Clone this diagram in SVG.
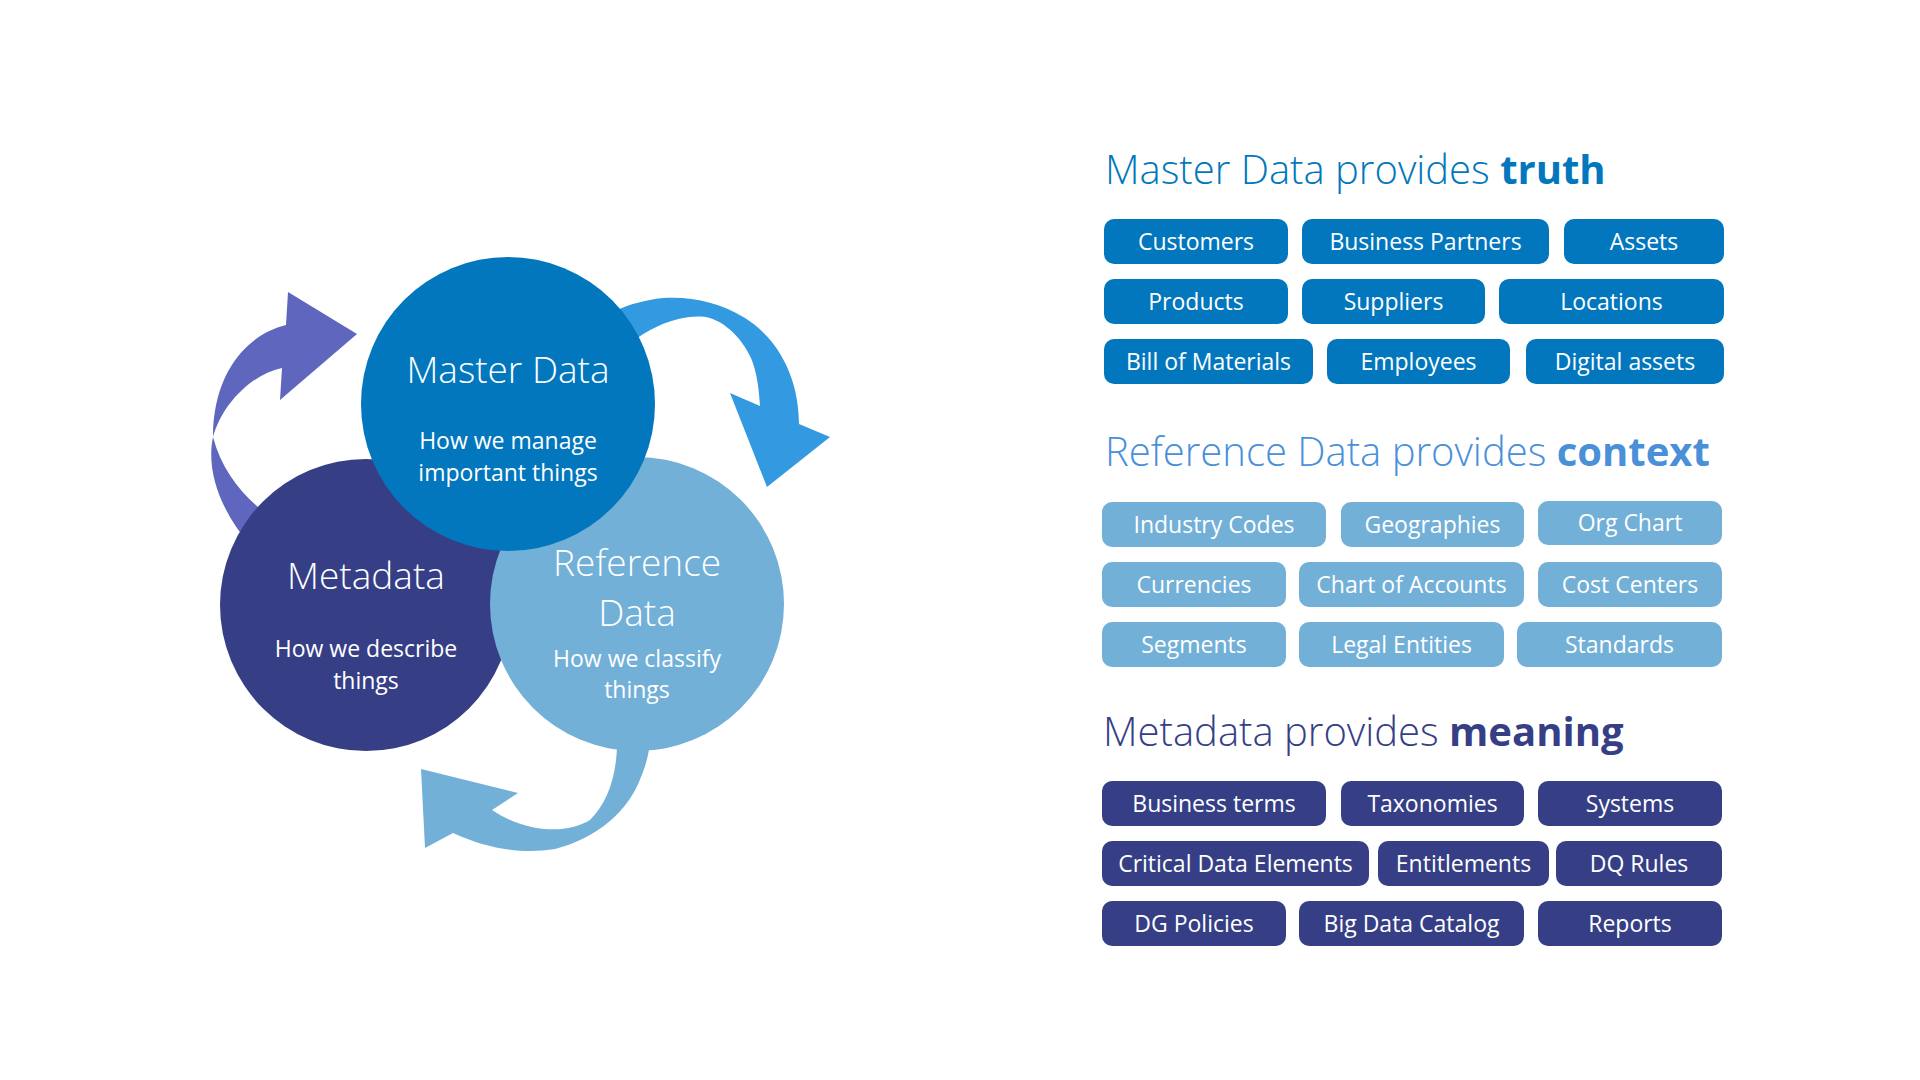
<svg xmlns="http://www.w3.org/2000/svg" width="1920" height="1080" viewBox="0 0 1920 1080">
  <style>
    .title { font-family: "Open Sans", "Liberation Sans", sans-serif; font-weight: 300; font-size: 37px; fill: #ffffff; text-anchor: middle; }
    .sub { font-family: "Open Sans", "Liberation Sans", sans-serif; font-weight: 400; font-size: 23px; fill: #ffffff; text-anchor: middle; }
    .head { font-family: "Open Sans", "Liberation Sans", sans-serif; font-weight: 300; font-size: 40px; }
    .head tspan.b { font-weight: 700; }
    .pill text { font-family: "Open Sans", "Liberation Sans", sans-serif; font-size: 23px; fill: #ffffff; text-anchor: middle; }
    .md rect { fill: #0277bd; }
    .rd rect { fill: #72b0d8; }
    .mt rect { fill: #363f86; }
  </style>

  <rect width="1920" height="1080" fill="#ffffff"/>

  <!-- cycle arrows -->
  <g id="connectors">
    <path id="arrow-meta-master" fill="#5e67bd" d="M 286 325 C 245 335 213 375 213 437 C 206 470 220 510 250 545 L 268 515 C 245 498 222 472 213 437 C 222 405 250 375 282 368 L 280 400 L 357 334 L 288 292 Z"/>
    <path id="arrow-master-ref" fill="#3399e0" d="M 799 424 C 799 380 780 340 745 318 C 720 302 690 296 663 298 C 645 300 630 304 615 311 L 632 342 C 650 328 675 316 700 316.5 C 722 317 742 338 751 358 C 757 372 759 390 760 406 L 730 393 L 767 487 L 830 437 Z"/>
    <path id="arrow-ref-meta" fill="#72b0d8" d="M 453 833 C 490 850 525 854 555 849 C 597 838 628 812 641 777 C 648 760 650 748 650 735 L 617 735 C 618 770 610 800 590 820 C 565 835 525 832 492 810 L 518 793 L 421 769 L 425 848 Z"/>
  </g>

  <!-- circles -->
  <g id="node-metadata">
    <circle cx="366" cy="605" r="146" fill="#363f86"/>
    <text class="title" x="366" y="589">Metadata</text>
    <text class="sub" x="366" y="657">How we describe</text>
    <text class="sub" x="366" y="689">things</text>
  </g>
  <g id="node-reference">
    <circle cx="637" cy="604" r="147" fill="#72b0d8"/>
    <text class="title" x="637" y="576">Reference</text>
    <text class="title" x="637" y="626">Data</text>
    <text class="sub" x="637" y="667">How we classify</text>
    <text class="sub" x="637" y="698">things</text>
  </g>
  <g id="node-master">
    <circle cx="508" cy="404" r="147" fill="#0277bd"/>
    <text class="title" x="508" y="383">Master Data</text>
    <text class="sub" x="508" y="449">How we manage</text>
    <text class="sub" x="508" y="481">important things</text>
  </g>

  <!-- Master Data panel -->
  <g id="heading-master">
    <text class="head" x="1105" y="184" fill="#0277bd">Master Data provides <tspan class="b">truth</tspan></text>
  </g>
  <g id="pills-master" class="pill md">
    <g id="p-customers"><rect x="1104" y="219" width="184" height="45" rx="10"/><text x="1196" y="250">Customers</text></g>
    <g id="p-business-partners"><rect x="1302" y="219" width="247" height="45" rx="10"/><text x="1425.5" y="250">Business Partners</text></g>
    <g id="p-assets"><rect x="1564" y="219" width="160" height="45" rx="10"/><text x="1644" y="250">Assets</text></g>
    <g id="p-products"><rect x="1104" y="279" width="184" height="45" rx="10"/><text x="1196" y="310">Products</text></g>
    <g id="p-suppliers"><rect x="1302" y="279" width="183" height="45" rx="10"/><text x="1393.5" y="310">Suppliers</text></g>
    <g id="p-locations"><rect x="1499" y="279" width="225" height="45" rx="10"/><text x="1611.5" y="310">Locations</text></g>
    <g id="p-bom"><rect x="1104" y="339" width="209" height="45" rx="10"/><text x="1208.5" y="370">Bill of Materials</text></g>
    <g id="p-employees"><rect x="1327" y="339" width="183" height="45" rx="10"/><text x="1418.5" y="370">Employees</text></g>
    <g id="p-digital-assets"><rect x="1526" y="339" width="198" height="45" rx="10"/><text x="1625" y="370">Digital assets</text></g>
  </g>

  <!-- Reference Data panel -->
  <g id="heading-reference">
    <text class="head" x="1105" y="466" fill="#4a90d9">Reference Data provides <tspan class="b">context</tspan></text>
  </g>
  <g id="pills-reference" class="pill rd">
    <g id="p-industry-codes"><rect x="1102" y="502" width="224" height="45" rx="10"/><text x="1214" y="533">Industry Codes</text></g>
    <g id="p-geographies"><rect x="1341" y="502" width="183" height="45" rx="10"/><text x="1432.5" y="533">Geographies</text></g>
    <g id="p-org-chart"><rect x="1538" y="501" width="184" height="44" rx="10"/><text x="1630" y="531">Org Chart</text></g>
    <g id="p-currencies"><rect x="1102" y="562" width="184" height="45" rx="10"/><text x="1194" y="593">Currencies</text></g>
    <g id="p-chart-of-accounts"><rect x="1299" y="562" width="225" height="45" rx="10"/><text x="1411.5" y="593">Chart of Accounts</text></g>
    <g id="p-cost-centers"><rect x="1538" y="562" width="184" height="45" rx="10"/><text x="1630" y="593">Cost Centers</text></g>
    <g id="p-segments"><rect x="1102" y="622" width="184" height="45" rx="10"/><text x="1194" y="653">Segments</text></g>
    <g id="p-legal-entities"><rect x="1299" y="622" width="205" height="45" rx="10"/><text x="1401.5" y="653">Legal Entities</text></g>
    <g id="p-standards"><rect x="1517" y="622" width="205" height="45" rx="10"/><text x="1619.5" y="653">Standards</text></g>
  </g>

  <!-- Metadata panel -->
  <g id="heading-metadata">
    <text class="head" x="1103" y="746" fill="#363f86">Metadata provides <tspan class="b">meaning</tspan></text>
  </g>
  <g id="pills-metadata" class="pill mt">
    <g id="p-business-terms"><rect x="1102" y="781" width="224" height="45" rx="10"/><text x="1214" y="812">Business terms</text></g>
    <g id="p-taxonomies"><rect x="1341" y="781" width="183" height="45" rx="10"/><text x="1432.5" y="812">Taxonomies</text></g>
    <g id="p-systems"><rect x="1538" y="781" width="184" height="45" rx="10"/><text x="1630" y="812">Systems</text></g>
    <g id="p-cde"><rect x="1102" y="841" width="267" height="45" rx="10"/><text x="1235.5" y="872">Critical Data Elements</text></g>
    <g id="p-entitlements"><rect x="1378" y="841" width="171" height="45" rx="10"/><text x="1463.5" y="872">Entitlements</text></g>
    <g id="p-dq-rules"><rect x="1556" y="841" width="166" height="45" rx="10"/><text x="1639" y="872">DQ Rules</text></g>
    <g id="p-dg-policies"><rect x="1102" y="901" width="184" height="45" rx="10"/><text x="1194" y="932">DG Policies</text></g>
    <g id="p-big-data-catalog"><rect x="1299" y="901" width="225" height="45" rx="10"/><text x="1411.5" y="932">Big Data Catalog</text></g>
    <g id="p-reports"><rect x="1538" y="901" width="184" height="45" rx="10"/><text x="1630" y="932">Reports</text></g>
  </g>
</svg>
